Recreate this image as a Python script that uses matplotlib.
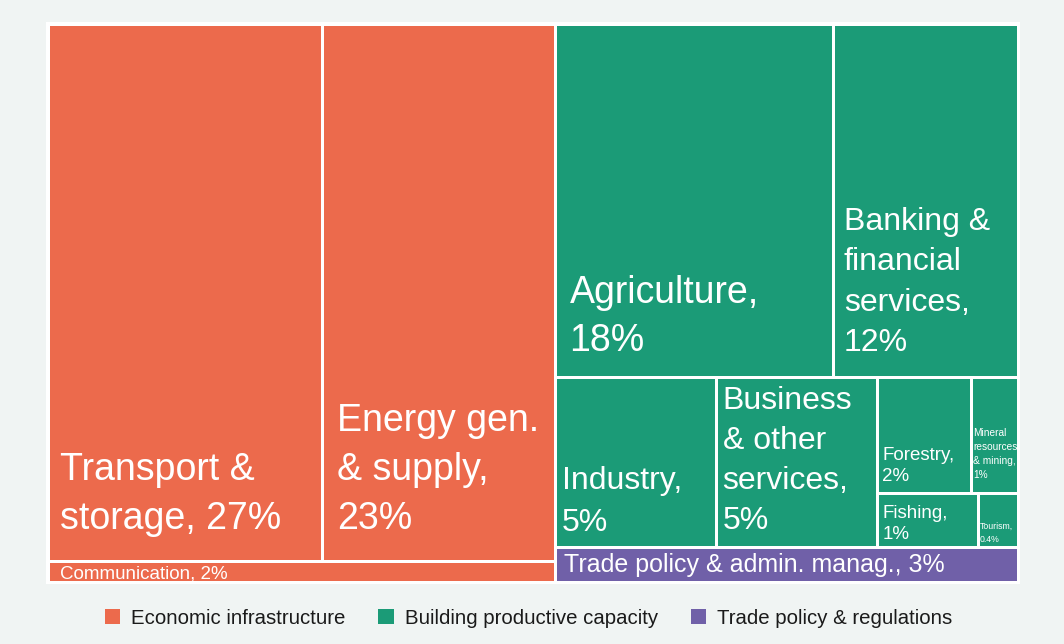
import matplotlib.pyplot as plt
from matplotlib.patches import Rectangle, Patch

plt.rcParams['font.family'] = ['Liberation Sans', 'DejaVu Sans']

# sector shares of aid for trade, in percent
sectors = ['Transport & storage', 'Energy gen. & supply', 'Communication',
           'Agriculture', 'Banking & financial services', 'Industry',
           'Business & other services', 'Forestry', 'Mineral resources & mining',
           'Fishing', 'Tourism', 'Trade policy & admin. manag.']
shares = [27, 23, 2, 18, 12, 5, 5, 2, 1, 1, 0.4, 3]
groups = (['Economic infrastructure'] * 3
          + ['Building productive capacity'] * 8
          + ['Trade policy & regulations'])
group_names = ['Economic infrastructure', 'Building productive capacity',
               'Trade policy & regulations']

# how each tile label is wrapped
tile_text = ['Transport &\nstorage, {}%', 'Energy gen.\n& supply,\n{}%',
             'Communication, {}%', 'Agriculture,\n{}%',
             'Banking &\nfinancial\nservices,\n{}%', 'Industry,\n{}%',
             'Business\n& other\nservices,\n{}%', 'Forestry,\n{}%',
             'Mineral\nresources\n& mining,\n{}%', 'Fishing,\n{}%',
             'Tourism,\n{}%', 'Trade policy & admin. manag., {}%']

colors = {'Economic infrastructure': '#EC6A4C',
          'Building productive capacity': '#1B9B77',
          'Trade policy & regulations': '#7060A8'}

# font size (pt), x pad and baseline pad from tile's bottom-left (px), line spacing
label_style = [(27, 12, 32, 1.45), (27, 15, 32, 1.45), (13.5, 12, 3.5, 1.45),
               (27, 14, 26, 1.45), (23, 11, 26, 1.45), (23, 6.5, 16, 1.5),
               (23, 6.5, 18, 1.43), (13.5, 5.5, 12, 1.3), (7.3, 2.5, 15, 1.5),
               (13.5, 5.5, 8, 1.3), (6.3, 2, 5, 1.6), (18, 8.5, 10, 1.45)]

# slice-and-dice nesting: 'h' puts children side by side, 'v' stacks them
tree = ('h', [('v', [('h', [0, 1]), 2]),
              ('v', [('v', [('h', [3, 4]),
                            ('h', [5, 6, ('v', [('h', [7, 8]), ('h', [9, 10])])])]),
                     11])])


def total(node):
    if isinstance(node, int):
        return shares[node]
    return sum(total(k) for k in node[1])


def place(node, x, y, w, h, out):
    if isinstance(node, int):
        out[node] = (x, y, w, h)
        return
    d, kids = node
    s = total(node)
    if d == 'h':
        for k in kids:
            kw = w * total(k) / s
            place(k, x, y, kw, h, out)
            x += kw
    else:
        top = y + h
        for k in kids:
            kh = h * total(k) / s
            top -= kh
            place(k, x, top, w, kh, out)


rects = {}
place(tree, 0, 0, 1, 1, rects)

fig = plt.figure(figsize=(10.64, 6.44), dpi=100, facecolor='#F0F4F3')
ax = fig.add_axes([46 / 1064, 1 - 584 / 644, 974 / 1064, 562 / 644])
ax.set_xlim(-2 / 970, 1 + 2 / 970)
ax.set_ylim(-2 / 558, 1 + 2 / 558)
ax.set_xticks([])
ax.set_yticks([])
for s in ax.spines.values():
    s.set_visible(False)

px = 0.72  # points per pixel at 100 dpi
for i, name in enumerate(sectors):
    x, y, w, h = rects[i]
    ax.add_patch(Rectangle((x, y), w, h, facecolor=colors[groups[i]],
                           edgecolor='white', linewidth=3 * px))
    fs, padx, pady, ls = label_style[i]
    ax.annotate(tile_text[i].format(f'{shares[i]:g}'), xy=(x, y),
                xytext=(padx * px, pady * px), textcoords='offset points',
                ha='left', va='baseline', fontsize=fs, color='white',
                linespacing=ls)

handles = [Patch(facecolor=colors[g], edgecolor='none') for g in group_names]
fig.legend(handles, group_names, loc='center', bbox_to_anchor=(0.4967, 1 - 618 / 644),
           ncol=3, frameon=False, fontsize=14.7, handlelength=0.75,
           handleheight=0.75, handletextpad=0.55, columnspacing=1.6,
           labelcolor='#1a1a1a')

fig.savefig('out.png', dpi=100, facecolor=fig.get_facecolor())
